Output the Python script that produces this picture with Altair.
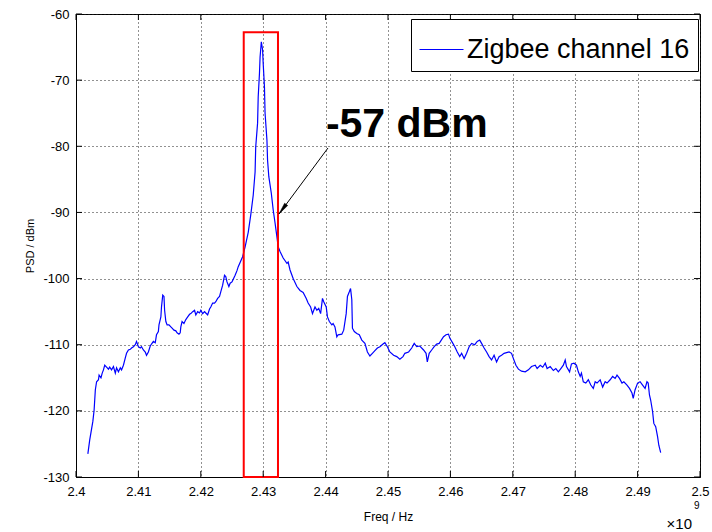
import altair as alt
import pandas as pd

# ---- data ----
freq_ghz = [
    2.4019, 2.4022, 2.4027, 2.4029, 2.4031, 2.4033, 2.4036, 2.4037, 2.4040, 2.4042,
    2.4044, 2.4046, 2.4049, 2.4052, 2.4054, 2.4057, 2.4060, 2.4063, 2.4065, 2.4068,
    2.4071, 2.4073, 2.4076, 2.4079, 2.4081, 2.4084, 2.4087, 2.4089, 2.4092, 2.4095,
    2.4097, 2.4100, 2.4103, 2.4105, 2.4108, 2.4111, 2.4113, 2.4116, 2.4119, 2.4121,
    2.4124, 2.4127, 2.4129, 2.4132, 2.4133, 2.4136, 2.4137, 2.4139, 2.4141, 2.4142,
    2.4144, 2.4146, 2.4149, 2.4152, 2.4154, 2.4157, 2.4160, 2.4162, 2.4165, 2.4167,
    2.4168, 2.4170, 2.4173, 2.4176, 2.4179, 2.4182, 2.4184, 2.4187, 2.4190, 2.4192,
    2.4195, 2.4198, 2.4200, 2.4203, 2.4206, 2.4208, 2.4211, 2.4214, 2.4216, 2.4219,
    2.4222, 2.4224, 2.4227, 2.4230, 2.4232, 2.4235, 2.4238, 2.4240, 2.4242, 2.4245,
    2.4247, 2.4250, 2.4252, 2.4255, 2.4258, 2.4260, 2.4267, 2.4271, 2.4276, 2.4280,
    2.4284, 2.4287, 2.4288, 2.4291, 2.4292, 2.4294, 2.4295, 2.4297, 2.4299, 2.4300,
    2.4302, 2.4303, 2.4306, 2.4307, 2.4309, 2.4313, 2.4316, 2.4319, 2.4322, 2.4324,
    2.4327, 2.4332, 2.4338, 2.4340, 2.4343, 2.4348, 2.4354, 2.4359, 2.4364, 2.4369,
    2.4372, 2.4376, 2.4379, 2.4383, 2.4386, 2.4389, 2.4392, 2.4395, 2.4397, 2.4401,
    2.4403, 2.4406, 2.4410, 2.4412, 2.4415, 2.4418, 2.4420, 2.4426, 2.4429, 2.4433,
    2.4435, 2.4438, 2.4440, 2.4442, 2.4443, 2.4446, 2.4450, 2.4454, 2.4458, 2.4463,
    2.4467, 2.4471, 2.4475, 2.4479, 2.4483, 2.4487, 2.4492, 2.4495, 2.4499, 2.4503,
    2.4509, 2.4514, 2.4519, 2.4524, 2.4527, 2.4533, 2.4538, 2.4542, 2.4546, 2.4551,
    2.4557, 2.4561, 2.4563, 2.4566, 2.4570, 2.4574, 2.4578, 2.4582, 2.4589, 2.4593,
    2.4597, 2.4599, 2.4604, 2.4607, 2.4611, 2.4615, 2.4618, 2.4622, 2.4626, 2.4630,
    2.4634, 2.4639, 2.4643, 2.4647, 2.4650, 2.4654, 2.4658, 2.4662, 2.4666, 2.4670,
    2.4674, 2.4678, 2.4682, 2.4686, 2.4690, 2.4694, 2.4698, 2.4701, 2.4705, 2.4709,
    2.4714, 2.4720, 2.4725, 2.4730, 2.4736, 2.4739, 2.4744, 2.4748, 2.4752, 2.4755,
    2.4760, 2.4765, 2.4769, 2.4773, 2.4777, 2.4781, 2.4784, 2.4786, 2.4791,
    2.4794, 2.4798, 2.4802, 2.4805, 2.4808, 2.4810, 2.4813, 2.4817, 2.4821, 2.4825,
    2.4829, 2.4832, 2.4835, 2.4840, 2.4844, 2.4848, 2.4851, 2.4856, 2.4860, 2.4864,
    2.4867, 2.4871, 2.4875, 2.4878, 2.4883, 2.4887, 2.4891, 2.4893, 2.4896, 2.4900,
    2.4904, 2.4908, 2.4912, 2.4915, 2.4917, 2.4919, 2.4921, 2.4924, 2.4926, 2.4929,
    2.4932, 2.4934, 2.4937,
]
psd_dbm = [
    -126.5, -124.4, -121.6, -119.9, -116.8, -115.6, -115.3, -114.6, -115.0, -114.3,
    -113.8, -113.1, -113.4, -113.7, -113.4, -113.8, -113.3, -114.3, -113.5, -114.1,
    -113.5, -113.8, -113.1, -112.0, -111.3, -110.8, -110.7, -110.5, -110.3, -110.0,
    -109.5, -110.3, -110.5, -110.3, -110.8, -111.1, -111.6, -111.1, -110.2, -109.9,
    -109.5, -109.7, -108.5, -108.0, -107.0, -105.8, -104.3, -102.5, -102.7, -104.8,
    -106.5, -107.0, -107.0, -107.3, -107.5, -107.8, -107.9, -108.2, -108.4, -108.2,
    -107.3, -106.5, -106.8, -106.2, -105.8, -105.4, -105.3, -105.0, -104.8, -105.5,
    -105.0, -105.2, -104.8, -105.3, -105.0, -105.2, -105.5, -104.6, -104.3, -103.7,
    -103.7, -103.5, -103.0, -102.7, -102.0, -101.0, -99.5, -99.7, -100.5, -101.2,
    -100.7, -100.5, -100.1, -99.5, -98.8, -98.2, -96.7, -95.2, -93.0, -90.4,
    -87.4, -83.9, -80.1, -76.5, -72.5, -69.0, -66.5, -64.2, -65.4, -67.5,
    -71.0, -75.0, -79.1, -82.1, -84.6, -87.1, -89.6, -91.6, -93.7, -95.2,
    -95.9, -96.9, -97.7, -97.5, -98.7, -100.0, -101.2, -101.8, -102.1, -103.0,
    -103.7, -104.3, -105.3, -104.3, -104.8, -104.5, -105.3, -103.0, -103.5, -104.3,
    -105.8, -106.5, -107.0, -106.8, -107.3, -108.8, -108.5, -108.4, -107.8, -105.3,
    -102.7, -102.0, -101.5, -103.2, -107.5, -108.0, -108.3, -108.5, -109.3, -109.8,
    -111.1, -111.7, -111.3, -110.9, -110.5, -110.3, -109.9, -109.7, -110.3, -111.1,
    -111.6, -111.8, -112.2, -111.8, -111.3, -111.1, -110.5, -109.8, -110.3, -110.2,
    -110.8, -111.3, -112.6, -111.3, -110.8, -110.3, -109.9, -109.8, -108.8, -108.5,
    -108.4, -109.0, -109.8, -110.3, -111.1, -111.8, -111.3, -112.1, -111.3, -110.3,
    -109.8, -110.0, -109.5, -109.3, -109.8, -110.5, -111.1, -111.8, -112.3, -111.6,
    -112.6, -111.8, -111.6, -111.3, -111.2, -111.1, -111.3, -112.1, -113.1, -113.7,
    -114.0, -114.1, -113.8, -113.3, -113.1, -113.6, -113.1, -113.4, -112.8, -113.6,
    -113.3, -113.9, -113.6, -114.1, -113.6, -113.1, -112.3, -113.3, -114.1,
    -112.9, -112.8, -113.1, -114.1, -114.8, -114.3, -115.6, -115.8, -115.3, -116.1,
    -116.6, -115.6, -115.8, -115.3, -116.4, -115.6, -115.8, -115.3, -114.8, -115.1,
    -114.6, -115.1, -115.8, -115.6, -116.1, -116.6, -117.3, -118.1, -116.8, -115.8,
    -115.6, -116.1, -116.6, -115.6, -115.8, -117.6, -118.4, -120.1, -121.9, -122.4,
    -123.9, -125.2, -126.3,
]
series_name = "Zigbee channel 16"

x_ticks = [2.40, 2.41, 2.42, 2.43, 2.44, 2.45, 2.46, 2.47, 2.48, 2.49, 2.50]
y_ticks = [-130, -120, -110, -100, -90, -80, -70, -60]

# highlight box and annotation
box_f = [2.42688, 2.43237]
box_db = [-62.77, -130.0]
arrow_from = [2.44038, -80.26]
arrow_to = [2.43253, -90.24]
annot_text = "-57 dBm"
annot_pos = [2.44005, -78.6]

W, H = 624, 463
FONT = "Liberation Sans"

df = pd.DataFrame({"f": freq_ghz, "psd": psd_dbm, "series": series_name})

xs = alt.Scale(domain=[2.4, 2.5], nice=False, zero=False)
ys = alt.Scale(domain=[-130, -60], nice=False, zero=False)

grid_common = dict(gridColor="#222222", gridDash=[1, 3], gridWidth=1, gridOpacity=1,
                   domainColor="black", ticks=False, labelFont=FONT, labelFontSize=13,
                   labelColor="black", titleFont=FONT, titleColor="black",
                   titleFontWeight="normal")

x_axis = alt.Axis(values=x_ticks, labelExpr="format(datum.value, '.2~f')",
                  title="Freq / Hz", titleFontSize=12, labelPadding=8,
                  titleX=W / 2, titleY=43, titleBaseline="alphabetic", titleAlign="center",
                  labelFlush=False, labelOverlap=False, **grid_common)
y_axis = alt.Axis(values=y_ticks, labelExpr="'' + datum.value",
                  title="PSD / dBm", titleFontSize=11, labelPadding=7,
                  titleX=-46, titleY=H / 2, titleAngle=270, titleBaseline="middle",
                  titleAlign="center", labelFlush=False, labelOverlap=False, **grid_common)

line = alt.Chart(df).mark_line(strokeWidth=1.2, interpolate="linear").encode(
    x=alt.X("f:Q", scale=xs, axis=x_axis),
    y=alt.Y("psd:Q", scale=ys, axis=y_axis),
    color=alt.Color("series:N", scale=alt.Scale(range=["#0000ff"]),
                    legend=alt.Legend(title=None, orient="none", legendX=335, legendY=5,
                                      strokeColor="black", fillColor="white", padding=8,
                                      cornerRadius=0, labelFont=FONT, labelFontSize=27,
                                      labelColor="black", labelOffset=3,
                                      symbolType="stroke", symbolSize=1936,
                                      symbolStrokeWidth=1, labelLimit=400)),
)

box_df = pd.DataFrame({"x": [box_f[0]], "x2": [box_f[1]], "y": [box_db[0]], "y2": [box_db[1]]})
box = alt.Chart(box_df).mark_rect(fillOpacity=0, stroke="#ff0000", strokeWidth=2).encode(
    x=alt.X("x:Q", scale=xs), x2="x2", y=alt.Y("y:Q", scale=ys), y2="y2")

arr_df = pd.DataFrame({"x": [arrow_from[0]], "x2": [arrow_to[0]],
                       "y": [arrow_from[1]], "y2": [arrow_to[1]]})
arrow_line = alt.Chart(arr_df).mark_rule(color="black", strokeWidth=1).encode(
    x=alt.X("x:Q", scale=xs), x2="x2", y=alt.Y("y:Q", scale=ys), y2="y2")

head_df = pd.DataFrame({"x": [arrow_to[0]], "y": [arrow_to[1]]})
arrow_head = alt.Chart(head_df).mark_point(
    shape="M0,0L-0.32,2L0.32,2Z", filled=True, fill="black", stroke="black",
    strokeWidth=0.5, opacity=1, size=144, angle=216.6).encode(
    x=alt.X("x:Q", scale=xs), y=alt.Y("y:Q", scale=ys))

text_df = pd.DataFrame({"x": [annot_pos[0]], "y": [annot_pos[1]], "t": [annot_text]})
annot = alt.Chart(text_df).mark_text(
    font=FONT, fontSize=41, fontWeight="bold", align="left", baseline="alphabetic",
    color="black").encode(x=alt.X("x:Q", scale=xs), y=alt.Y("y:Q", scale=ys), text="t:N")

# MATLAB-style inward ticks on all four sides
xt_df = pd.DataFrame({"v": x_ticks})
yt_df = pd.DataFrame({"v": y_ticks})
tick_style = dict(color="black", strokeWidth=1)
xb = alt.Chart(xt_df).mark_rule(**tick_style).encode(
    x=alt.X("v:Q", scale=xs), y=alt.value(H), y2=alt.value(H - 6))
xtp = alt.Chart(xt_df).mark_rule(**tick_style).encode(
    x=alt.X("v:Q", scale=xs), y=alt.value(0), y2=alt.value(6))
yl = alt.Chart(yt_df).mark_rule(**tick_style).encode(
    y=alt.Y("v:Q", scale=ys), x=alt.value(0), x2=alt.value(6))
yr = alt.Chart(yt_df).mark_rule(**tick_style).encode(
    y=alt.Y("v:Q", scale=ys), x=alt.value(W), x2=alt.value(W - 6))

# x10^9 exponent label
exp_base = alt.Chart(pd.DataFrame({"t": ["\u00d710"]})).mark_text(
    font=FONT, fontSize=15, align="right", baseline="alphabetic", color="black", dx=-8
).encode(x=alt.datum(2.5), y=alt.value(H + 52), text="t:N")
exp_pow = alt.Chart(pd.DataFrame({"t": ["9"]})).mark_text(
    font=FONT, fontSize=10, align="left", baseline="alphabetic", color="black", dx=-6
).encode(x=alt.datum(2.5), y=alt.value(H + 32), text="t:N")

chart = alt.layer(line, box, arrow_line, arrow_head, annot, xb, xtp, yl, yr,
                  exp_base, exp_pow).properties(
    width=W, height=H,
    autosize=alt.AutoSizeParams(type="none"),
    padding={"left": 76, "top": 14, "right": 12, "bottom": 55},
    background="white",
).configure_view(stroke="black", strokeWidth=1)

chart.save("out.html", embed_options={"renderer": "svg", "actions": False})
